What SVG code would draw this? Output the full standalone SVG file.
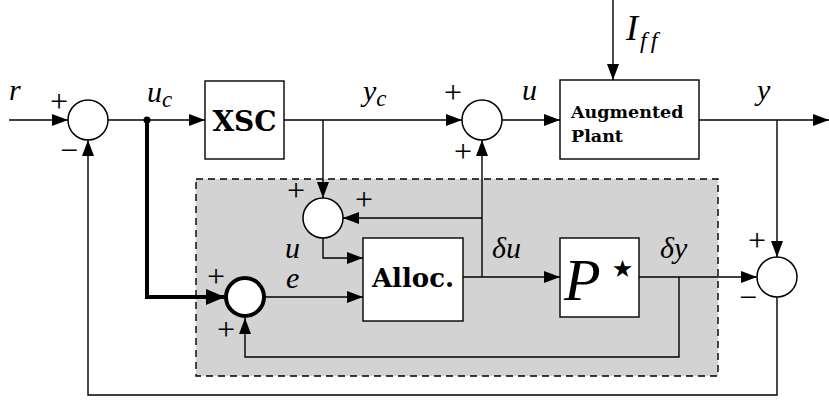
<svg xmlns="http://www.w3.org/2000/svg" width="829" height="401" viewBox="0 0 829 401">
<style>
.ln{fill:none;stroke:#000;stroke-width:1.4}
.thick{fill:none;stroke:#000;stroke-width:4}
.box{fill:#fff;stroke:#000;stroke-width:1.4}
.sum{fill:#fff;stroke:#000;stroke-width:1.5}
.m{font-style:italic;fill:#000}
.b{font-weight:bold;fill:#000}
.sg{fill:#000;text-anchor:middle}
</style>
<defs>
<marker id="ah" markerUnits="userSpaceOnUse" markerWidth="17" markerHeight="13" refX="16" refY="6" orient="auto">
<path d="M0,0 L16,6 L0,12 Z" fill="#000"/>
</marker>
<marker id="ahb" markerUnits="userSpaceOnUse" markerWidth="20" markerHeight="17" refX="19" refY="8" orient="auto">
<path d="M0,0 L19,8 L0,16 Z" fill="#000"/>
</marker>
</defs>

<g id="panel">
<rect x="196" y="179" width="522" height="197" fill="#d3d3d3" stroke="#000" stroke-width="1.4" stroke-dasharray="7,5"/>
</g>

<g id="connectors">
<path class="ln" d="M9,120 H68" marker-end="url(#ah)"/>
<path class="ln" d="M108,120 H205" marker-end="url(#ah)"/>
<path class="ln" d="M284,120 H462" marker-end="url(#ah)"/>
<path class="ln" d="M323,120 V198" marker-end="url(#ah)"/>
<path class="ln" d="M502,120 H560" marker-end="url(#ah)"/>
<path class="ln" d="M613,0 V80" marker-end="url(#ah)"/>
<path class="ln" d="M699,120 H829" marker-end="url(#ah)"/>
<path class="ln" d="M777,120 V257" marker-end="url(#ah)"/>
<path class="ln" d="M777,297 V395 H88 V140" marker-end="url(#ah)"/>
<path class="ln" d="M323,238 V258 H363" marker-end="url(#ah)"/>
<path class="thick" d="M147,120 V297 H225" marker-end="url(#ahb)"/>
<path class="ln" d="M265,297 H363" marker-end="url(#ah)"/>
<path class="ln" d="M463,277 H560" marker-end="url(#ah)"/>
<path class="ln" d="M482,277 V140" marker-end="url(#ah)"/>
<path class="ln" d="M482,218 H343" marker-end="url(#ah)"/>
<path class="ln" d="M639,277 H757" marker-end="url(#ah)"/>
<path class="ln" d="M679,277 V357 H245 V318" marker-end="url(#ah)"/>
<circle cx="147" cy="120" r="3.5" fill="#000"/>
</g>

<g id="sum1">
<circle class="sum" cx="88" cy="120" r="20"/>
<text class="sg" x="59" y="112" font-family="'Liberation Serif', serif" font-size="32">+</text>
<text class="sg" x="69" y="161" font-family="'Liberation Serif', serif" font-size="32">−</text>
</g>
<g id="sum3">
<circle class="sum" cx="482" cy="120" r="20"/>
<text class="sg" x="453" y="103" font-family="'Liberation Serif', serif" font-size="32">+</text>
<text class="sg" x="463" y="162" font-family="'Liberation Serif', serif" font-size="32">+</text>
</g>
<g id="sum2">
<circle class="sum" cx="323" cy="218" r="20"/>
<text class="sg" x="296" y="201" font-family="'Liberation Serif', serif" font-size="32">+</text>
<text class="sg" x="364" y="210" font-family="'Liberation Serif', serif" font-size="32">+</text>
</g>
<g id="sum4">
<circle cx="245" cy="297" r="19" fill="#fff" stroke="#000" stroke-width="4"/>
<text class="sg" x="216" y="287" font-family="'Liberation Serif', serif" font-size="32">+</text>
<text class="sg" x="226" y="340" font-family="'Liberation Serif', serif" font-size="32">+</text>
</g>
<g id="sum5">
<circle class="sum" cx="777" cy="277" r="20"/>
<text class="sg" x="757" y="251" font-family="'Liberation Serif', serif" font-size="32">+</text>
<text class="sg" x="748" y="308" font-family="'Liberation Serif', serif" font-size="32">−</text>
</g>

<g id="xsc">
<rect class="box" x="205" y="81" width="79" height="78"/>
<text class="b" x="244.5" y="131" font-family="'DejaVu Serif', serif" font-size="28" text-anchor="middle">XSC</text>
</g>
<g id="plant">
<rect class="box" x="560" y="80" width="139" height="79"/>
<text class="b" x="571" y="118" font-family="'DejaVu Serif', serif" font-size="17.5">Augmented</text>
<text class="b" x="571" y="142" font-family="'DejaVu Serif', serif" font-size="17.5">Plant</text>
</g>
<g id="alloc">
<rect class="box" x="363" y="238" width="100" height="83"/>
<text class="b" x="413" y="287" font-family="'DejaVu Serif', serif" font-size="26" text-anchor="middle">Alloc.</text>
</g>

<g id="pstar">
<rect class="box" x="560" y="238" width="79" height="79"/>
<text class="m" x="564" y="300" font-family="'Liberation Serif', serif" font-size="60">P<tspan font-family="'DejaVu Sans', sans-serif" font-style="normal" font-size="24" dx="11" dy="-23">★</tspan></text>
</g>

<g id="labels">
<text class="m" x="9" y="100" font-family="'Liberation Serif', serif" font-size="30">r</text>
<text class="m" x="147" y="102" font-family="'Liberation Serif', serif" font-size="30">u<tspan font-size="23" dy="5">c</tspan></text>
<text class="m" x="363" y="101" font-family="'Liberation Serif', serif" font-size="30">y<tspan font-size="23" dy="5">c</tspan></text>
<text class="m" x="522" y="100" font-family="'Liberation Serif', serif" font-size="30">u</text>
<text class="m" x="626" y="40" font-family="'Liberation Serif', serif" font-size="36" style="font-variant-ligatures:none">I<tspan font-size="24" dx="2" dy="8">f</tspan><tspan font-size="24" dx="4">f</tspan></text>
<text class="m" x="757" y="100" font-family="'Liberation Serif', serif" font-size="30">y</text>
<text class="m" x="285" y="258" font-family="'Liberation Serif', serif" font-size="30">u</text>
<text class="m" x="286" y="288" font-family="'Liberation Serif', serif" font-size="30">e</text>
<text class="m" x="492" y="258" font-family="'Liberation Serif', serif" font-size="30">δu</text>
<text class="m" x="660" y="258" font-family="'Liberation Serif', serif" font-size="30">δy</text>
</g>
</svg>
